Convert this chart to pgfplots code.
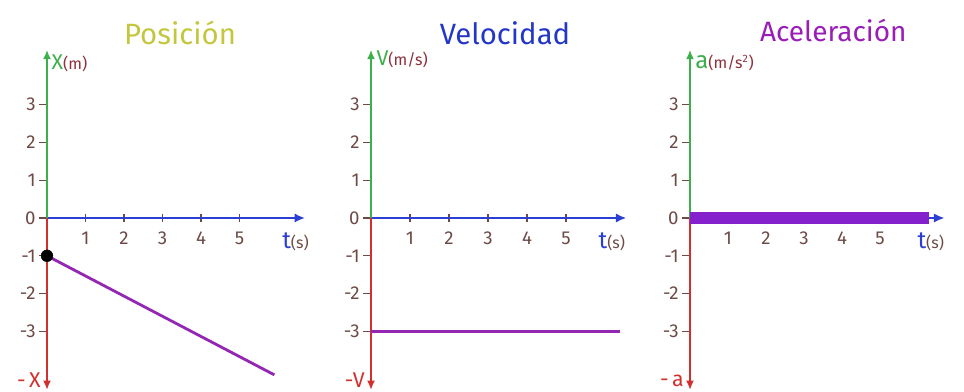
\documentclass[border=0pt]{standalone}
\usepackage{pgfplots}
\pgfplotsset{compat=1.18}
\usetikzlibrary{arrows.meta}
\usepackage{fontspec}
\setmainfont{Fira Sans}

\definecolor{axgreen}{HTML}{3DAF4B}
\definecolor{axred}{HTML}{D0302E}
\definecolor{axblue}{HTML}{2B3FD2}
\definecolor{tickbrown}{HTML}{6E4A46}
\definecolor{labred}{HTML}{8E2F3A}
\definecolor{curve}{HTML}{9327B4}
\definecolor{band}{HTML}{8420CC}
\definecolor{titleolive}{HTML}{C4C63E}
\definecolor{titleblue}{HTML}{2436C8}
\definecolor{titlepurple}{HTML}{9A1DB8}

\pgfplotsset{
  kin/.style={
    y=28.35pt,
    xmin=-0.25, xmax=6.9, ymin=-4.6, ymax=4.5,
    axis lines=middle,
    axis line style={draw=none},
    clip=false,
    anchor=origin,
    xtick={1,...,5}, ytick={-3,...,3},
    hide obscured x ticks=false,
    hide obscured y ticks=false,
    major tick length=6pt,
    tick style={tickbrown, line width=1pt},
    ytick align=outside,
    xtick align=center,
    /pgf/number format/assume math mode=true,
    ticklabel style={text=tickbrown, font=\fontsize{14}{16}\selectfont},
    xticklabel style={yshift=-4pt},
    yticklabel style={xshift=1pt},
  },
  % the coloured axis arrows: green up, red down, blue along t
  posaxis/.style={axgreen, line width=1.7pt, -{Latex[length=7pt,width=6pt]}},
  negaxis/.style={axred, line width=1.7pt, -{Latex[length=7pt,width=6pt]}},
  taxis/.style={axblue, line width=1.7pt, -{Latex[length=8pt,width=7pt]}},
}

\newcommand{\tlabel}{\textcolor{axblue}{\fontsize{18}{20}\selectfont t}\textcolor{tickbrown}{\fontsize{12}{14}\selectfont(s)}}

\begin{document}
\begin{tikzpicture}
\path[use as bounding box] (0,0) rectangle (723pt,294pt);

% ---- position ----
\begin{axis}[kin, x=28.9pt, at={(35.25pt,130.5pt)}]
  \addplot[taxis] coordinates {(0,0) (6.7,0)};
  \addplot[posaxis] coordinates {(0,0) (0,4.45)};
  \addplot[negaxis] coordinates {(0,0) (0,-4.55)};
  \addplot[curve, line width=2.1pt] coordinates {(0,-1) (5.9,-4.15)};
  \addplot[only marks, mark=*, mark size=4.4pt, black] coordinates {(0,-1)};
  \node[anchor=west, inner sep=1pt] at (axis cs:0.08,4.1)
    {\textcolor{axgreen}{\fontsize{16}{18}\selectfont X}\textcolor{labred}{\fontsize{12}{14}\selectfont(m)}};
  \node[anchor=west, inner sep=0pt] at (axis cs:6.1,-0.62) {\tlabel};
  \node[anchor=east, inner sep=1pt, text=axred, font=\fontsize{16}{18}\selectfont] at (axis cs:-0.12,-4.3) {-\,X};
\end{axis}

% ---- velocity ----
\begin{axis}[kin, x=29.25pt, at={(278.25pt,130.5pt)}]
  \addplot[taxis] coordinates {(0,0) (6.55,0)};
  \addplot[posaxis] coordinates {(0,0) (0,4.45)};
  \addplot[negaxis] coordinates {(0,0) (0,-4.55)};
  \addplot[curve, line width=2.1pt] coordinates {(0,-3) (6.38,-3)};
  \node[anchor=west, inner sep=1pt] at (axis cs:0.1,4.2)
    {\textcolor{axgreen}{\fontsize{16}{18}\selectfont V}\textcolor{labred}{\fontsize{12}{14}\selectfont(m/s)}};
  \node[anchor=west, inner sep=0pt] at (axis cs:5.83,-0.62) {\tlabel};
  \node[anchor=east, inner sep=1pt, text=axred, font=\fontsize{16}{18}\selectfont] at (axis cs:-0.12,-4.3) {-V};
\end{axis}

% ---- acceleration ----
\begin{axis}[kin, x=28.5pt, at={(517.5pt,130.5pt)}]
  \addplot[taxis] coordinates {(0,0) (6.7,0)};
  \addplot[posaxis] coordinates {(0,0) (0,4.45)};
  \addplot[negaxis] coordinates {(0,0) (0,-4.55)};
  \addplot[band, line width=9pt] coordinates {(0,0) (6.3,0)};
  \node[anchor=west, inner sep=1pt] at (axis cs:0.1,4.1)
    {\textcolor{axgreen}{\fontsize{18}{20}\selectfont a}\textcolor{labred}{\fontsize{12}{14}\selectfont(m/s\textsuperscript{2})}};
  \node[anchor=west, inner sep=0pt] at (axis cs:5.98,-0.62) {\tlabel};
  \node[anchor=east, inner sep=1pt, text=axred, font=\fontsize{16}{18}\selectfont] at (axis cs:-0.12,-4.3) {-\,a};
\end{axis}

% ---- panel titles ----
\node[text=titleolive, font=\fontsize{22}{26}\selectfont] at (135pt,269pt) {Posición};
\node[text=titleblue, font=\fontsize{22}{26}\selectfont] at (378.75pt,269pt) {Velocidad};
\node[text=titlepurple, font=\fontsize{21}{25}\selectfont] at (625pt,271pt) {Aceleración};
\end{tikzpicture}
\end{document}
